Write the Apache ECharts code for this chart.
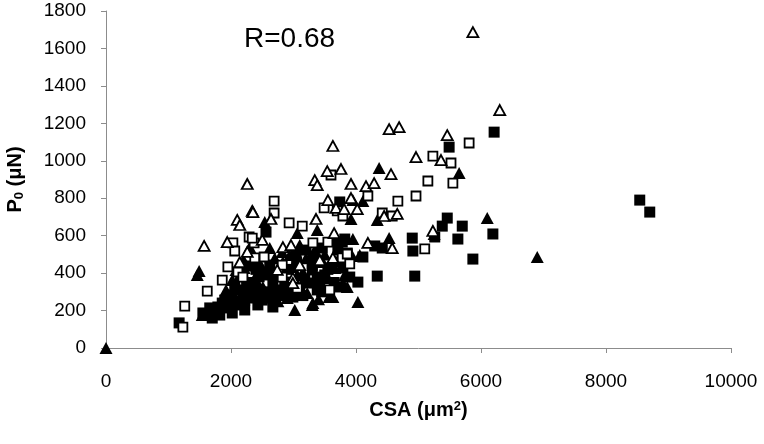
<!DOCTYPE html>
<html>
<head>
<meta charset="utf-8">
<script src="https://cdn.jsdelivr.net/npm/echarts@6/dist/echarts.min.js"></script>
<style>html,body{margin:0;padding:0;background:#fff}#c{width:764px;height:444px}</style>
</head>
<body>
<div id="c"></div>
<script>
// Data (CSA in µm², P0 in µN)
const xTicks = [0, 2000, 4000, 6000, 8000, 10000];
const yTicks = [0, 200, 400, 600, 800, 1000, 1200, 1400, 1600, 1800];
const titleText = 'R=0.68';

const openTriangles = [
 [5870,1687],[6300,1271],[5460,1137],[4530,1169],[4690,1180],[3630,1079],[4960,1020],[5360,1004],
 [2260,876],[3540,945],[3760,956],[4560,929],[3340,897],[3380,870],[3920,876],[4160,865],[4290,881],
 [3550,790],[3920,801],[3680,748],[4020,742],[4450,705],[4660,716],[3360,689],[2340,732],[2100,684],
 [2140,657],[2640,689],[2350,726],[1570,545],[1940,566],[2260,513],[2830,539],[2960,550],[3650,614],
 [4190,561],[4580,534],[5230,625],[2740,417],[3100,443],[3420,470],[3630,481],[2990,374],[2990,347],
 [3810,742],[2500,577],[2140,459]
];
const filledTriangles = [
 [0,0],[6900,486],[6100,694],[5650,935],[4370,961],[5250,609],[3950,790],[4110,785],[3920,689],
 [4340,684],[2540,673],[3060,614],[3380,630],[3660,577],[2300,539],[2820,513],[2940,497],[1460,390],
 [1490,411],[1540,176],[3950,582],[4530,587],[3940,491],[4060,497],[3860,326],[4030,246],[3780,336],
 [2510,417],[2670,406],[2830,459],[3470,459],[3660,427],[2990,433],[3150,406],[2340,336],[2510,326],
 [2580,283],[3060,390],[3550,374],[3790,347],[3820,390],[3220,294],[3570,272],[2900,267],[3300,230],
 [3020,203],[3310,240],[3630,272],[2380,374],[2140,390],[2020,363],[2270,352],[2400,363],[1920,310],
 [2210,427],[2080,417],[3340,523],[3100,550],[2620,534],[2700,480],[3200,480],[2450,460],[3500,500],
 [2750,250],[3400,260],[2200,470]
];
const openSquares = [
 [5810,1095],[5230,1025],[5520,988],[5150,892],[5550,881],[3600,924],[4960,812],[4670,785],[4190,812],
 [2690,785],[2690,721],[3490,748],[3700,732],[3790,705],[4420,721],[4580,705],[2930,668],[3140,651],
 [3310,561],[3550,566],[2290,593],[2370,561],[2030,561],[2060,518],[2340,587],[2380,481],[1950,433],
 [1860,363],[1620,304],[1260,224],[1230,112],[2530,486],[2820,443],[3780,481],[2820,379],[3060,320],
 [3580,310],[3860,502],[3900,449],[5100,529],[2110,406],[2190,379]
];
const filledSquares = [
 [6210,1153],[5490,1073],[8540,790],[8700,726],[5460,694],[5380,651],[5700,651],[6190,609],[5630,582],
 [5260,593],[4900,587],[4910,518],[5870,475],[4340,384],[4940,384],[3740,780],[2560,619],[2320,438],
 [3820,582],[3780,566],[4300,545],[4420,534],[4110,486],[3790,427],[3900,379],[4030,352],[3860,507],
 [3310,470],[3300,417],[2430,310],[2380,267],[2670,347],[2750,310],[2660,267],[2670,219],[2910,310],
 [3260,347],[3380,379],[3380,310],[3420,347],[3740,326],[2990,272],[2340,294],[1170,134],[1550,187],
 [1660,214],[1790,219],[1900,256],[2020,283],[2140,310],[1950,214],[2110,230],[2220,256],[2060,336],
 [2300,310],[2220,203],[2020,187],[1820,176],[1700,160],[1860,240],[2430,230],[2500,256],[3100,320],
 [3180,363],[3500,390],[3580,427],[2860,352],[2540,390],[2620,443],[3040,497],[3200,523],[3460,534],
 [3710,523],[2250,350],[2400,420],[2600,300],[2800,280],[3000,350],[3150,280],[3450,300],[2700,390],
 [2900,420],[3300,440],[3550,420],[3650,350],[2200,290],[1980,250],[2450,380],[3050,460],[3700,460],
 [2150,250]
];

const FONT = '"Liberation Sans", Arial, sans-serif';
const chart = echarts.init(document.getElementById('c'), null, {renderer: 'canvas'});
const axisCommon = {
  axisLine: {show: true, lineStyle: {color: '#8c8c8c', width: 1}},
  axisTick: {show: true, inside: false, length: 5, lineStyle: {color: '#8c8c8c'}},
  splitLine: {show: false},
};
const plain = v => String(v);
chart.setOption({
  animation: false,
  backgroundColor: '#ffffff',
  title: {
    text: titleText, left: 239, top: 20,
    textStyle: {fontFamily: FONT, fontSize: 28, fontWeight: 'normal', color: '#000'}
  },
  grid: {left: 106, right: 33, top: 11, bottom: 96, containLabel: false, outerBoundsMode: 'none'},
  xAxis: Object.assign({}, axisCommon, {
    type: 'value', min: xTicks[0], max: xTicks[xTicks.length - 1], interval: xTicks[1] - xTicks[0],
    axisLabel: {fontFamily: FONT, fontSize: 19, color: '#000', margin: 24, formatter: plain},
    name: '{b|CSA (μm}{sup|2}{b|)}', nameLocation: 'middle', nameGap: 52,
    nameTextStyle: {
      rich: {
        b: {fontFamily: FONT, fontSize: 20, fontWeight: 'bold', color: '#000'},
        sup: {fontFamily: FONT, fontSize: 13, fontWeight: 'bold', color: '#000', verticalAlign: 'top', padding: [0,0,8,0]}
      }
    }
  }),
  yAxis: Object.assign({}, axisCommon, {
    type: 'value', min: yTicks[0], max: yTicks[yTicks.length - 1], interval: yTicks[1] - yTicks[0],
    axisLabel: {fontFamily: FONT, fontSize: 19, color: '#000', margin: 20, formatter: plain, padding: [8,0,0,0]},
    name: '{b|P}{sub|0}{b| (μN)}', nameLocation: 'middle', nameGap: 80,
    nameTextStyle: {
      rich: {
        b: {fontFamily: FONT, fontSize: 20, fontWeight: 'bold', color: '#000'},
        sub: {fontFamily: FONT, fontSize: 13, fontWeight: 'bold', color: '#000', padding: [8,0,0,0]}
      }
    }
  }),
  series: [
    {type: 'scatter', name: 'filled squares', data: filledSquares, symbol: 'rect', symbolSize: 11,
     itemStyle: {color: '#000', opacity: 1}, z: 2},
    {type: 'scatter', name: 'filled triangles', data: filledTriangles, symbol: 'triangle', symbolSize: [13, 12],
     itemStyle: {color: '#000', opacity: 1}, z: 3},
    {type: 'scatter', name: 'open squares', data: openSquares, symbol: 'rect', symbolSize: 9,
     itemStyle: {color: '#fff', borderColor: '#000', borderWidth: 1.8, opacity: 1}, z: 4},
    {type: 'scatter', name: 'open triangles', data: openTriangles, symbol: 'triangle', symbolSize: [11, 10],
     itemStyle: {color: '#fff', borderColor: '#000', borderWidth: 1.8, opacity: 1}, z: 5}
  ]
});
</script>
</body>
</html>
